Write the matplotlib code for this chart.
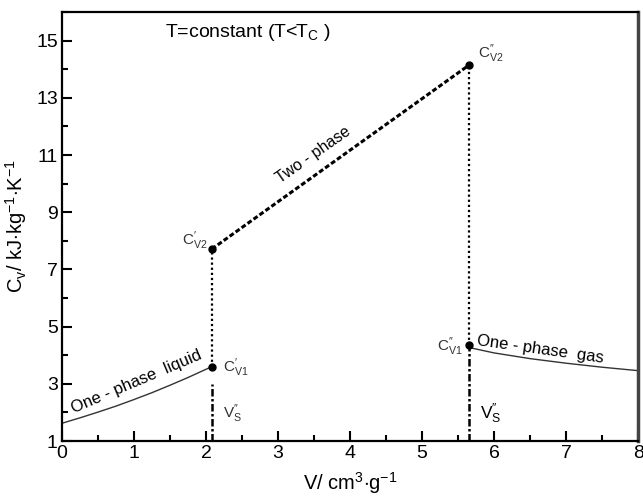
import matplotlib
matplotlib.use("Agg")
import matplotlib.pyplot as plt
from matplotlib.ticker import MultipleLocator

plt.rcParams['font.family'] = ['Liberation Sans', 'DejaVu Sans']
plt.rcParams['mathtext.fontset'] = 'custom'
plt.rcParams['mathtext.rm'] = 'Liberation Sans'
plt.rcParams['mathtext.it'] = 'Liberation Sans:italic'
plt.rcParams['mathtext.bf'] = 'Liberation Sans:bold'

# Data
liq_v = [0.0, 0.25, 0.5, 0.75, 1.0, 1.25, 1.5, 1.75, 2.08]
liq_c = [1.62, 1.81, 2.01, 2.22, 2.45, 2.69, 2.95, 3.22, 3.6]
gas_v = [5.65, 6.0, 6.5, 7.0, 7.5, 8.0]
gas_c = [4.27, 4.08, 3.88, 3.72, 3.58, 3.46]
v_liq_sat = 2.08
v_gas_sat = 5.65
c_v1_liq = 3.6
c_v2_liq = 7.71
c_v1_gas = 4.35
c_v2_gas = 14.14
vs_liq_top = 3.0
vs_gas_top = 4.3

fig = plt.figure(figsize=(6.43, 5.0), dpi=100)
ax = fig.add_axes([0.0964, 0.118, 0.896, 0.858])

ax.plot(liq_v, liq_c, color='#333333', lw=1.0)
ax.plot(gas_v, gas_c, color='#333333', lw=1.0)

# two-phase line
ax.plot([v_liq_sat, v_gas_sat], [c_v2_liq, c_v2_gas], color='black', lw=2.2,
        linestyle=(0, (1.6, 0.8)))
# vertical dotted lines
ax.plot([v_liq_sat, v_liq_sat], [c_v1_liq, c_v2_liq], color='black', lw=1.6,
        linestyle=(0, (1, 1.3)))
ax.plot([v_gas_sat, v_gas_sat], [c_v1_gas, c_v2_gas], color='black', lw=1.6,
        linestyle=(0, (1, 1.3)))
# dash-dot lines
ax.plot([v_liq_sat, v_liq_sat], [1, vs_liq_top], color='black', lw=1.8,
        linestyle=(0, (3, 1, 1, 1)))
ax.plot([v_gas_sat, v_gas_sat], [1, vs_gas_top], color='black', lw=1.8,
        linestyle=(0, (3, 1, 1, 1)))

# points
ax.plot([v_liq_sat, v_liq_sat, v_gas_sat, v_gas_sat],
        [c_v1_liq, c_v2_liq, c_v1_gas, c_v2_gas], 'o', color='black', ms=5)

ax.set_xlim(0, 8)
ax.set_ylim(1, 16)
ax.xaxis.set_major_locator(MultipleLocator(1))
ax.xaxis.set_minor_locator(MultipleLocator(0.5))
ax.set_yticks([1, 3, 5, 7, 9, 11, 13, 15])
ax.yaxis.set_minor_locator(MultipleLocator(1))
ax.tick_params(which='both', direction='in', top=False, right=False,
               labelsize=14, width=1.5, colors='black')
ax.tick_params(which='major', length=7, pad=3)
ax.tick_params(which='minor', length=4)
for s in ax.spines.values():
    s.set_linewidth(1.6)
ax.spines['right'].set_color('#444444')
ax.spines['right'].set_linewidth(2.5)

ax.set_xlabel(r'V/ cm$^{3}$$\cdot$g$^{-1}$', fontsize=14.5, labelpad=6)
ax.set_ylabel(r'C$_{\rm v}$/ kJ$\cdot$kg$^{-1}$$\cdot$K$^{-1}$', fontsize=14.5, labelpad=5)

tc = '#333333'
p1 = "\u2032"
p2 = "\u2033"
ax.text(1.43, 15.3, r'T=constant (T<T$_{\rm C}$ )', fontsize=14, color='black',
        ha='left', va='center')
ax.text(3.49, 11.0, 'Two - phase', fontsize=11.5, rotation=35, ha='center', va='center',
        color='black')
ax.text(1.04, 3.07, 'One - phase  liquid', fontsize=12, rotation=23, ha='center',
        va='center', color='black')
ax.text(6.64, 4.19, 'One - phase  gas', fontsize=12, rotation=-8, ha='center',
        va='center', color='black')

ax.text(v_liq_sat - 0.06, c_v2_liq + 0.3, "C$^{\\mathrm{" + p1 + "}}_{\\mathrm{V2}}$",
        fontsize=11, ha='right', va='center', color=tc)
ax.text(v_gas_sat + 0.12, c_v2_gas + 0.4, "C$^{\\mathrm{" + p2 + "}}_{\\mathrm{V2}}$",
        fontsize=11, ha='left', va='center', color=tc)
ax.text(v_liq_sat + 0.15, c_v1_liq - 0.05, "C$^{\\mathrm{" + p1 + "}}_{\\mathrm{V1}}$",
        fontsize=11, ha='left', va='center', color=tc)
ax.text(v_gas_sat - 0.08, c_v1_gas - 0.05, "C$^{\\mathrm{" + p2 + "}}_{\\mathrm{V1}}$",
        fontsize=11, ha='right', va='center', color=tc)
ax.text(v_liq_sat + 0.15, 1.95, "V$^{\\mathrm{" + p2 + "}}_{\\mathrm{S}}$",
        fontsize=11, ha='left', va='center', color=tc)
ax.text(v_gas_sat + 0.15, 1.95, "V$^{\\mathrm{" + p2 + "}}_{\\mathrm{S}}$",
        fontsize=12.5, ha='left', va='center', color='black')

fig.savefig('out.png', dpi=100)
